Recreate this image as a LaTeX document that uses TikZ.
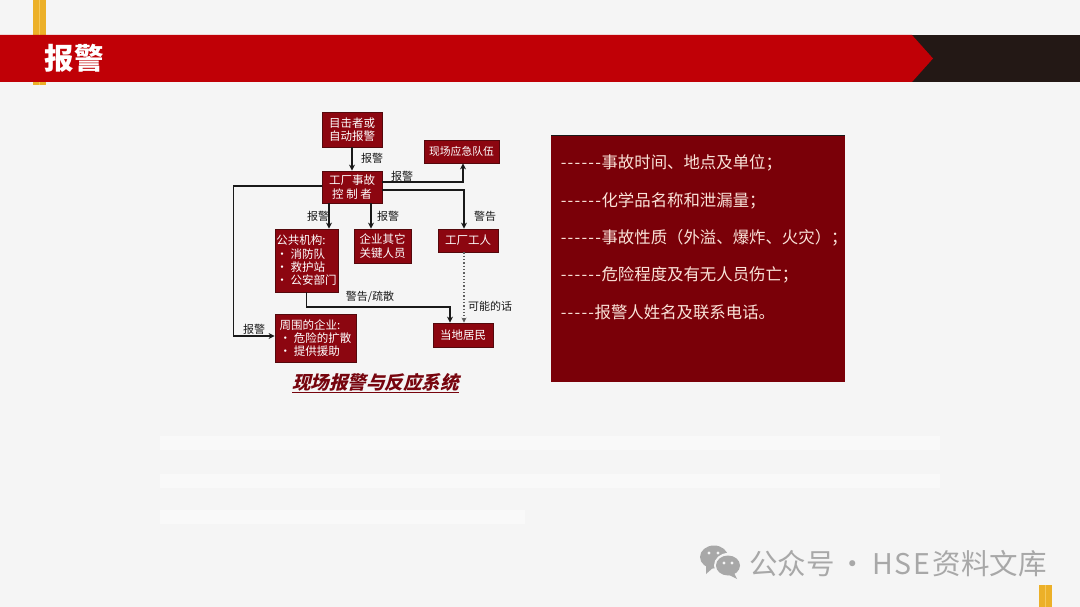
\documentclass[tikz,border=0pt]{standalone}
\usepackage{xcolor}
\usepackage{fontspec}
\usepackage{tikz}
\usetikzlibrary{arrows.meta, calc}
\setmainfont{Noto Sans CJK SC}
\newfontfamily\slantfont[FakeSlant=0.25]{Noto Sans CJK SC}
\definecolor{pagebg}{RGB}{245,245,245}
\definecolor{bandred}{RGB}{192,0,6}
\definecolor{banddark}{RGB}{35,24,21}
\definecolor{stripegold}{RGB}{236,176,40}
\definecolor{stripelight}{RGB}{246,200,90}
\definecolor{boxred}{RGB}{140,6,16}
\definecolor{boxedge}{RGB}{84,8,12}
\definecolor{panelred}{RGB}{122,0,8}
\definecolor{paneltext}{RGB}{250,226,216}
\definecolor{inkdark}{RGB}{25,25,25}
\definecolor{markgray}{RGB}{168,168,168}
\newcommand{\dashmark}{\makebox[6.9pt]{-}}
\tikzset{
  flowbox/.style={rectangle, draw=boxedge, fill=boxred, text=white, align=center,
    inner sep=0pt, line width=0.8pt, font=\fontsize{11.5}{13.4}\selectfont},
  listbox/.style={flowbox, align=left},
  flow/.style={-{Stealth[length=6pt,width=6pt]}, line width=1.3pt, color=inkdark},
  maybeflow/.style={-{Stealth[length=5pt,width=5pt]}, line width=1.3pt, dotted, color=inkdark!70},
  tag/.style={inner sep=0pt, text=inkdark, font=\fontsize{11}{12}\selectfont},
  factline/.style={anchor=west, inner sep=0pt, text=paneltext, font=\fontsize{16.4}{18}\selectfont},
  stripe/.style={fill=stripegold, draw=none},
  faintline/.style={fill=white, draw=none, opacity=0.4}
}
\begin{document}
\begin{tikzpicture}[x=1pt, y=-1pt]
  % Page
  \fill[pagebg] (0,0) rectangle (1080,607);
  \useasboundingbox (0,0) rectangle (1080,607);

  % Gold stripes
  \fill[stripelight] (33,0) rectangle (46,85);
  \fill[stripelight] (1039,585) rectangle (1052,607);
  \foreach \x in {33, 40} {
    \fill[stripe] (\x,0) rectangle ++(6,85);
    \fill[stripe] (\x+1006,585) rectangle ++(6,22);
  }

  % Header band
  \fill[banddark] (900,35) rectangle (1080,82);
  \fill[bandred] (0,35) -- (912,35) -- (933,58.5) -- (912,82) -- (0,82) -- cycle;
  \node[inner sep=0pt, text=white, font=\fontsize{29.5}{32}\selectfont\bfseries] (title) at (74.5,58) {报警};

  % Flow chart boxes
  \node[flowbox, minimum width=60pt, minimum height=35pt] (witness) at (352,129.5) {目击者或\\自动报警};
  \node[flowbox, minimum width=60pt, minimum height=32pt] (ctrl) at (352,187) {工厂事故\\控 制 者};
  \node[flowbox, minimum width=75pt, minimum height=23pt, font=\fontsize{10.8}{12}\selectfont] (team) at (461.5,151.5) {现场应急队伍};
  \node[listbox, minimum width=63pt, minimum height=63pt] (agency) at (306.5,260.5) {公共机构:\\ · 消防队\\ · 救护站\\ · 公安部门};
  \node[flowbox, minimum width=57pt, minimum height=34pt] (others) at (382.5,246) {企业其它\\关键人员};
  \node[flowbox, minimum width=60pt, minimum height=23pt] (workers) at (468,240.5) {工厂工人};
  \node[listbox, minimum width=81pt, minimum height=48pt] (nearby) at (315.5,338) {周围的企业:\\ · 危险的扩散\\ · 提供援助};
  \node[flowbox, minimum width=60pt, minimum height=24pt] (locals) at (463,335) {当地居民};

  % Connectors
  \draw[flow] (witness.south) -- (ctrl.north);
  \draw[flow] ([yshift=5pt]ctrl.east) -| ([xshift=1.5pt]team.south);
  \draw[flow] ([yshift=-3pt]ctrl.east) -| ([xshift=-4pt]workers.north);
  \draw[flow] ([xshift=-23pt]ctrl.south) -- ([xshift=-23pt]ctrl.south |- agency.north);
  \draw[flow] ([xshift=19pt]ctrl.south) -- ([xshift=19pt]ctrl.south |- others.north);
  \draw[flow] ([yshift=1pt]ctrl.west) -- ++(-88,0) |- ([yshift=2pt]nearby.west);
  \draw[flow] (agency.south) |- (400,307) -| ([xshift=-13pt]locals.north);
  \draw[maybeflow] ([xshift=-4pt]workers.south) -- ([xshift=-4pt]workers.south |- locals.north);

  % Connector labels
  \node[tag] (tagA) at (372,158) {报警};
  \node[tag] (tagB) at (402,176) {报警};
  \node[tag] (tagC) at (318,216) {报警};
  \node[tag] (tagD) at (388,216) {报警};
  \node[tag] (tagE) at (485,216) {警告};
  \node[tag] (tagF) at (370,297) {警告/疏散};
  \node[tag] (tagG) at (490,306) {可能的话};
  \node[tag] (tagH) at (254,329) {报警};

  % Caption
  \node[inner sep=0pt, text=boxred!85!black, font=\fontsize{18.5}{20}\slantfont\bfseries] (caption) at (375.5,382) {现场报警与反应系统};
  \draw[boxred!85!black, line width=1pt] (292,392) -- (459,392);

  % Right panel
  \fill[panelred] (551,135) rectangle (845,382);
  \draw[inkdark, line width=0.8pt] (551,135) -- (845,135);
  \foreach \y/\lbl in {163/事故时间、地点及单位；, 201/化学品名称和泄漏量；, 238/事故性质（外溢、爆炸、火灾）；, 275/危险程度及有无人员伤亡；} {
    \node[factline] (fact\y) at (560,\y) {\dashmark\dashmark\dashmark\dashmark\dashmark\dashmark\lbl};
  }
  \node[factline] (factlast) at (560,312) {\dashmark\dashmark\dashmark\dashmark\dashmark 报警人姓名及联系电话。};

  % Washed-out body lines
  \foreach \y/\xend in {443/940, 481/940, 517/525} {
    \fill[faintline] (160,\y-7) rectangle (\xend,\y+7);
  }

  % Watermark
  \fill[markgray] (714,557) ellipse (14 and 11.5);
  \fill[markgray] (706,566) -- (706,574) -- (714,567) -- cycle;
  \fill[pagebg] (728,565.5) ellipse (14 and 12.5);
  \fill[markgray] (728,565.5) ellipse (12 and 10);
  \fill[markgray] (734,573) -- (737,579) -- (729,575) -- cycle;
  \foreach \x/\y in {709/553, 718/553, 724/563, 732/563} {
    \fill[pagebg] (\x,\y) circle (1.6);
  }
  \node[anchor=west, inner sep=0pt, text=markgray, font=\fontsize{28.5}{30}\selectfont] (mark) at (749,564) {公众号\hspace{4pt}·\hspace{5pt}H\hspace{2pt}S\hspace{2pt}E\hspace{2pt}资料文库};
\end{tikzpicture}
\end{document}
